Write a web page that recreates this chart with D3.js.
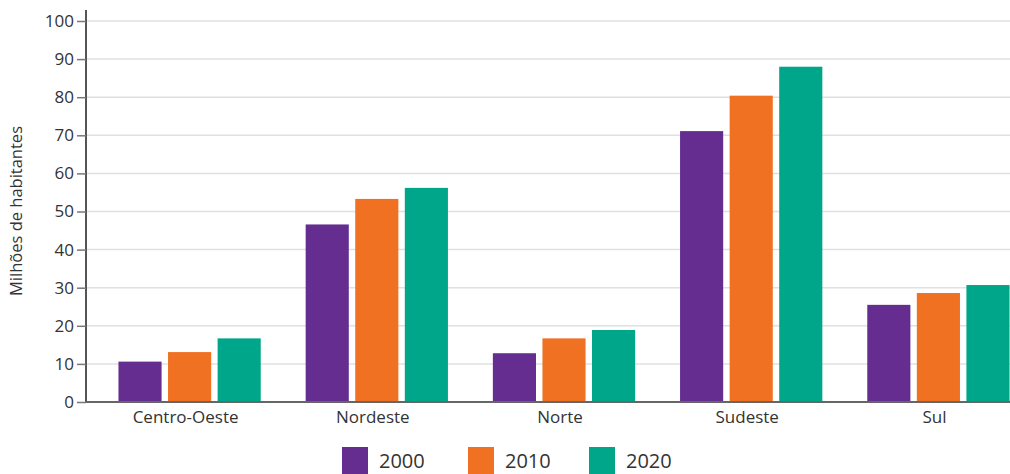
<!DOCTYPE html>
<html lang="pt">
<head>
<meta charset="UTF-8">
<title>Popula&ccedil;&atilde;o por regi&atilde;o</title>
<script src="https://cdn.jsdelivr.net/npm/d3@7"></script>
<style>
    body { margin: 0; background: #fff; font-family: 'Open Sans', sans-serif; }
    .axis text { fill: #333; font-size: 17px; font-family: 'Open Sans', sans-serif; }
    .grid line { stroke: #e0e0e0; stroke-width: 1.5; }
</style>
</head>
<body>
<div id="chart"></div>
<script>
// data
var regions = ["Centro-Oeste", "Nordeste", "Norte", "Sudeste", "Sul"];
var years = ["2000", "2010", "2020"];
var v2000 = [10.6, 46.6, 12.8, 71.1, 25.5];
var v2010 = [13.1, 53.3, 16.7, 80.4, 28.6];
var v2020 = [16.7, 56.2, 18.9, 88.0, 30.7];
var yTicks = [0, 10, 20, 30, 40, 50, 60, 70, 80, 90, 100];
var colors = ["#652d90", "#f07122", "#00a68a"];

var series = [v2000, v2010, v2020];
var rows = regions.map(function (r, i) {
    return {region: r, values: years.map(function (y, j) { return {year: y, value: series[j][i]}; })};
});

var W = 1010, H = 474;
var plotLeft = 86, plotBottom = 402, plotTop = 21;

var svg = d3.select("#chart").append("svg")
    .attr("width", W).attr("height", H);

var x0 = d3.scaleBand().domain(regions).range([96, 1032]).paddingInner(0.24).paddingOuter(0.12);
var x1 = d3.scaleBand().domain(years).range([0, x0.bandwidth()]).paddingInner(0.13);
var y = d3.scaleLinear().domain([0, 100]).range([plotBottom, plotTop]);

// gridlines
svg.append("g").attr("class", "grid")
    .selectAll("line").data(yTicks.filter(function (d) { return d > 0; }))
    .enter().append("line")
    .attr("x1", plotLeft).attr("x2", W)
    .attr("y1", function (d) { return y(d); })
    .attr("y2", function (d) { return y(d); });

// bars
var group = svg.selectAll(".region")
    .data(rows).enter().append("g")
    .attr("transform", function (d) { return "translate(" + x0(d.region) + ",0)"; });

group.selectAll("rect")
    .data(function (d) { return d.values; })
    .enter().append("rect")
    .attr("x", function (d) { return x1(d.year); })
    .attr("width", x1.bandwidth())
    .attr("y", function (d) { return y(d.value); })
    .attr("height", function (d) { return plotBottom - y(d.value); })
    .attr("fill", function (d, i) { return colors[i]; });

// y axis
var yAxis = svg.append("g").attr("class", "axis")
    .attr("transform", "translate(" + plotLeft + ",0)")
    .call(d3.axisLeft(y).tickValues(yTicks).tickSize(9).tickPadding(3));
yAxis.select(".domain").attr("d", "M0,10V" + plotBottom).attr("stroke", "#555").attr("stroke-width", 2);
yAxis.selectAll(".tick line").attr("stroke", "#777").attr("stroke-width", 1.5);

// x axis
var xAxis = svg.append("g").attr("class", "axis")
    .attr("transform", "translate(0," + plotBottom + ")")
    .call(d3.axisBottom(x0).tickSize(0).tickPadding(9));
xAxis.select(".domain").attr("d", "M" + plotLeft + ",0H" + W).attr("stroke", "#666").attr("stroke-width", 2);
xAxis.selectAll(".tick text").attr("dx", -4);

// y title
svg.append("text")
    .attr("transform", "translate(22,211) rotate(-90)")
    .attr("text-anchor", "middle")
    .style("font-size", "16.5px").style("fill", "#333")
    .text("Milhões de habitantes");

// legend
var legX = [342, 468, 589];
var legend = svg.selectAll(".legend")
    .data(years).enter().append("g")
    .attr("transform", function (d, i) { return "translate(" + legX[i] + ",447)"; });
legend.append("rect").attr("width", 26).attr("height", 27)
    .attr("fill", function (d, i) { return colors[i]; });
legend.append("text").attr("x", 37).attr("y", 21)
    .style("font-size", "20px").style("fill", "#333")
    .text(function (d) { return d; });
</script>
</body>
</html>
